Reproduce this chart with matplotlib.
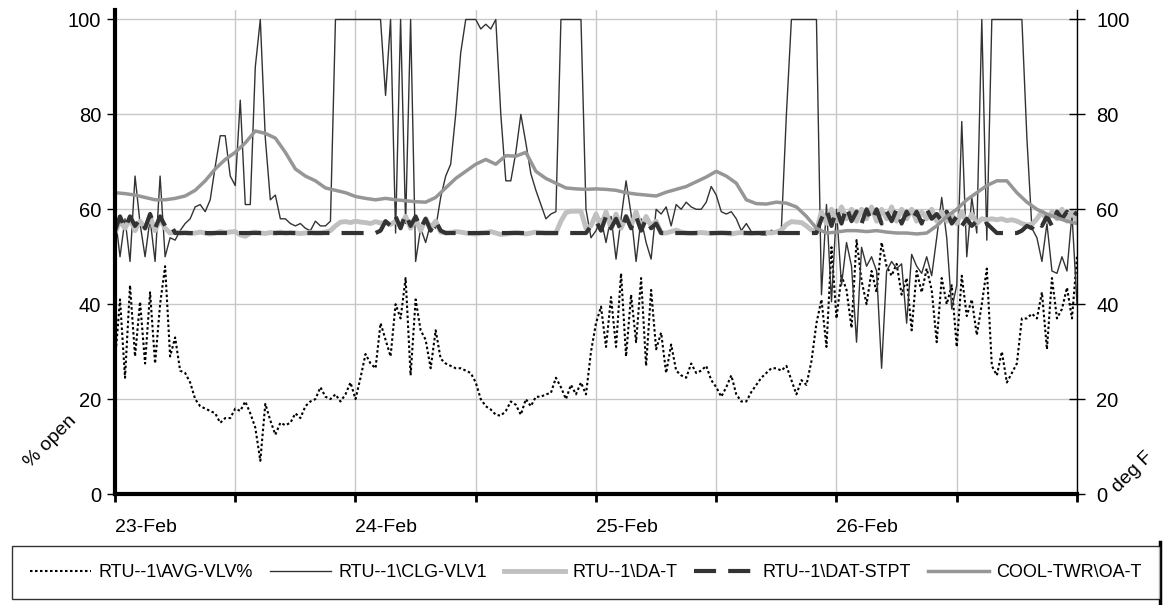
import matplotlib.pyplot as plt
import numpy as np
from matplotlib.lines import Line2D

plt.rcParams['font.family'] = ['Liberation Sans', 'DejaVu Sans']

# x axis: hours from 23-Feb 00:00, labels every 12 h
tick_labels = ['23-Feb', '', '24-Feb', '', '25-Feb', '', '26-Feb', '', '']
series_names = ['RTU--1\\AVG-VLV%', 'RTU--1\\CLG-VLV1', 'RTU--1\\DA-T',
                'RTU--1\\DAT-STPT', 'COOL-TWR\\OA-T']

# half-hourly samples (% open)
avg_vlv = [28, 41, 24.5, 44, 29, 40.5, 27.5, 42.5, 27.5, 40, 48, 29,
           33, 26, 25.5, 23.5, 20, 18.5, 18, 17.5, 17, 15, 16, 16,
           18, 17.5, 19.5, 17, 14, 7, 19, 15.5, 12.5, 15, 14.5, 15,
           17, 16, 18.5, 19.5, 20, 22.5, 20.5, 20, 21, 19.5, 21, 23.5,
           20, 24.5, 29.5, 27.5, 26.5, 36, 32.5, 29, 40, 37, 45.5, 25,
           41, 34.5, 32.5, 26.5, 34.5, 28.5, 27.5, 27, 26.5, 26.5, 26, 25.5,
           23.5, 20, 18.5, 17.8, 16.7, 16.5, 17.5, 19.5, 18.8, 16.7, 20, 18.5,
           20.5, 20.5, 21, 21.3, 24.5, 22.5, 20, 23, 21, 23.5, 21, 30,
           36, 39.5, 31, 41.5, 31, 46.5, 29, 42, 32, 45.5, 27, 43,
           30.5, 34, 25.5, 31.5, 26, 25, 24.5, 27.5, 25.5, 26, 27, 24,
           22.5, 20.5, 22.5, 25, 21, 19.5, 19.5, 21.5, 23, 24.5, 25.5, 26.5,
           26.5, 26, 27, 24, 21, 24, 23, 28, 36, 41, 31, 52,
           37, 46, 43, 35, 53.5, 45, 40, 47, 42.5, 53, 48, 46,
           48.5, 42, 45.5, 34.5, 47, 42.5, 47.5, 43, 32, 45.5, 40, 44,
           31, 46, 37.5, 41, 33.5, 40, 47.5, 27, 25, 30, 23.5, 25.5,
           27.5, 37, 37, 38, 37, 42.5, 30.5, 45.5, 37, 39, 43.5, 37,
           50]

clg_vlv1 = [59, 50, 58, 49, 67, 57, 50, 58, 49, 67, 50, 54,
            53.5, 55.5, 57, 58, 60.5, 61, 59.5, 62, 69, 75.5, 75.5, 67,
            65, 83, 61, 61, 90, 100, 75, 62, 63, 58, 58, 57,
            56.5, 57, 56, 55.5, 57.5, 56.5, 56.5, 57.5, 100, 100, 100, 100,
            100, 100, 100, 100, 100, 100, 84, 100, 55, 100, 57, 100,
            49, 56, 53, 57, 56, 62.5, 67, 69.5, 80, 93, 100, 100,
            100, 98, 99, 98, 100, 80, 66, 66, 72, 80, 74, 67.5,
            64, 61, 58, 59, 59.5, 100, 100, 100, 100, 100, 60, 54,
            55.5, 58, 53, 58.5, 49.5, 58, 66, 59, 49, 58, 53, 49.5,
            60, 59, 60.5, 56.5, 61, 60, 61.5, 60.5, 60, 60, 61.5, 64.8,
            63, 59.5, 59, 59.5, 58, 55.5, 57, 55.3, 55, 54.6, 54.6, 55.6,
            55, 56, 80, 100, 100, 100, 100, 100, 100, 42, 61, 40.5,
            60, 44, 53, 48, 32, 52, 48, 50, 47, 26.5, 47, 49,
            47.5, 48.5, 36, 50.5, 48, 46.5, 50, 46, 54, 62.5, 54, 39,
            44, 78.5, 50, 62.5, 55, 100, 53.5, 100, 100, 100, 100, 100,
            100, 100, 75, 56, 54, 49, 57, 47, 46.5, 50, 47, 59,
            40]

# half-hourly samples (deg F)
da_t = [55, 57.5, 56, 58, 55.5, 57.5, 56, 58.5, 55.5, 58, 56, 55,
        55.2, 55.0, 55.1, 54.9, 55.0, 55.2, 55.0, 54.8, 55.0, 55.3, 55.1, 55.2,
        55.3, 54.6, 54.3, 55.0, 55.2, 55.0, 54.9, 55.1, 55.0, 55.2, 55.0, 55.1,
        55.0, 54.9, 55.0, 55.1, 55.0, 55.0, 55.2, 55.5, 56.5, 57.3, 57.4, 57.2,
        57.5, 57.3, 57.2, 57.0, 57.4, 57.1, 57.2, 56.8, 57.5, 56.5, 58.5, 56,
        58, 55.5, 58, 56, 57.5, 55.2, 55.0, 55.1, 55.3, 55.2, 55.0, 54.9,
        54.8, 55.0, 55.1, 55.3, 55.0, 54.7, 54.8, 55.0, 55.1, 55.0, 54.8, 55.0,
        55.2, 55.1, 55.0, 55.0, 55.0, 57.5, 59.3, 59.6, 59.6, 59.6, 56, 56.5,
        59, 56.5, 59.5, 56, 59, 56, 58.5, 56.5, 59.5, 56, 58.5, 56.5,
        57.5, 55.0, 55.0, 55.3, 55.6, 55.2, 55.0, 54.9, 55.0, 55.1, 55.0, 54.9,
        55.0, 55.1, 55.0, 54.8, 55.0, 55.1, 55.0, 54.9, 55.0, 55.0, 55.1, 55.0,
        55.2, 55.6, 56.8, 57.4, 57.3, 57.2, 56.5, 55.6, 55.5, 59.5, 57, 60,
        57.5, 60.5, 58, 60, 57.5, 60, 58, 60.5, 57.5, 60, 58, 60.5,
        57.5, 60, 58, 60, 57.5, 59.5, 58, 60, 57.5, 59.5, 57.5, 59,
        57, 59.5, 57, 59, 57, 58, 57.8, 58, 57.8, 58, 57.6, 57.8,
        57.5, 57, 56.7, 56.8, 58, 59.5, 57.5, 59.5, 58, 60, 57.5, 59.5,
        57.5]

dat_stpt = [55.5, 58.5, 56, 58.5, 56.5, 58, 56, 59, 56, 58.5, 56.5, 57,
            55, 55, 55, 55, 55, 55, 55, 55, 55, 55, 55, 55,
            55, 55, 55, 55, 55, 55, 55, 55, 55, 55, 55, 55,
            55, 55, 55, 55, 55, 55, 55, 55, 55, 55, 55, 55,
            55, 55, 55, 55, 55, 55.5, 57.5, 56.5, 58.5, 56, 59, 56.5,
            58.5, 56, 58, 55.5, 57.5, 55.5, 55, 55, 55, 55, 55, 55,
            55, 55, 55, 55, 55, 55, 55, 55, 55, 55, 55, 55,
            55, 55, 55, 55, 55, 55, 55, 55, 55, 55, 55, 56.5,
            57.5, 55.5, 58.5, 56, 58, 55.5, 58.5, 56, 58.5, 55.5, 58, 56,
            57, 55, 55, 55, 55, 55, 55, 55, 55, 55, 55, 55,
            55, 55, 55, 55, 55, 55, 55, 55, 55, 55, 55, 55,
            55, 55, 55, 55, 55, 55, 55, 55, 55, 58, 60, 56.5,
            60, 57, 60.5, 57.5, 59.5, 57, 60, 57.5, 60, 57, 59.5, 57.5,
            60, 57, 59.5, 57.5, 59.5, 57, 60, 58, 59, 57.5, 59.5, 57,
            58.5, 56.5, 58, 56.5, 57.5, 56.5, 57, 56, 55, 55, 55, 55,
            55, 55.5, 56.5, 56, 57.5, 56.5, 58.5, 56.5, 59.5, 58, 59.5, 58,
            59.5]

# hourly samples (deg F)
oa_t = [63.5, 63.3, 63.0, 62.5, 62.0, 62.0, 62.3, 62.8, 64.0, 66.0, 68.5, 70.5,
        72.0, 74.0, 76.5, 76.0, 75.0, 72.0, 68.5, 67.0, 66.0, 64.5, 64.0, 63.5,
        62.7, 62.3, 62.0, 62.3, 62.0, 61.8, 61.6, 61.5, 62.5, 64.5, 66.5, 68.0,
        69.5, 70.5, 69.5, 71.3, 71.2, 72.0, 68.0, 66.5, 65.5, 64.5, 64.3, 64.2,
        64.3, 64.2, 64.0, 63.5, 63.2, 63.0, 62.8, 63.6, 64.2, 64.8, 65.8, 66.8,
        68.0, 67.0, 65.5, 62.0, 61.2, 61.1, 61.5, 61.3, 60.5, 58.5, 56.0, 55.0,
        55.2, 55.5, 55.5, 55.3, 55.5, 55.2, 55.0, 55.0, 54.8, 55.0, 56.5, 58.5,
        60.0, 62.0, 63.5, 65.0, 66.0, 66.0, 63.5, 61.5, 60.0, 59.0, 58.2, 57.5,
        57.0]

W, H = 1163, 605
fig = plt.figure(figsize=(W / 100, H / 100), dpi=100)
ax = fig.add_axes([115 / W, 1 - 494 / H, (1077 - 115) / W, (494 - 10) / H])

t_half = np.arange(len(clg_vlv1)) / 2
t_hour = np.arange(len(oa_t))

styles = [
    dict(color='black', lw=1.5, ls=(0, (1.2, 1.2))),
    dict(color='#333333', lw=1.0, ls='-'),
    dict(color='#c0c0c0', lw=3.5, ls='-'),
    dict(color='#333333', lw=3.0, ls=(0, (5.3, 2.9))),
    dict(color='#969696', lw=2.5, ls='-'),
]

ax.plot(t_half, avg_vlv, **styles[0])
ax.plot(t_half, clg_vlv1, **styles[1])
ax.plot(t_half, da_t, **styles[2])
ax.plot(t_half, dat_stpt, **styles[3])
ax.plot(t_hour, oa_t, **styles[4])

ax.set_xlim(0, 96)
ax.set_ylim(0, 102)
ax.set_xticks(np.arange(0, 97, 12))
ax.set_xticklabels(tick_labels, ha='left', fontsize=14)
ax.set_yticks(np.arange(0, 101, 20))
ax.tick_params(axis='y', labelsize=14.5, direction='out', length=6, width=1, pad=4)
ax.tick_params(axis='x', direction='out', length=6, width=2, pad=12)
ax.grid(True, color='#c8c8c8', lw=1)
ax.set_axisbelow(True)
for s in ['top', 'right']:
    ax.spines[s].set_visible(False)
ax.spines['left'].set_linewidth(3)
ax.spines['bottom'].set_linewidth(3)

ax2 = ax.twinx()
ax2.set_ylim(0, 102)
ax2.set_yticks(np.arange(0, 101, 20))
ax2.tick_params(axis='y', labelsize=14.5, direction='inout', length=12, width=1, pad=8)
for s in ['top', 'left', 'bottom']:
    ax2.spines[s].set_visible(False)
ax2.spines['right'].set_linewidth(1)

fig.text(50 / W, 1 - 442 / H, '% open', rotation=45, ha='center', va='center', fontsize=14)
fig.text(1133 / W, 1 - 472 / H, 'deg F', rotation=45, ha='center', va='center', fontsize=14)

handles = [Line2D([], [], **st) for st in styles]
leg = fig.legend(handles, series_names, loc='center', ncol=5,
                 bbox_to_anchor=(12 / W, 1 - 603 / H, 1148 / W, 61 / H),
                 mode='expand', fontsize=13, frameon=True, fancybox=False,
                 edgecolor='black', handlelength=3.4, handletextpad=0.4,
                 borderpad=1.0, borderaxespad=0)
leg.get_frame().set_linewidth(1)
fig.add_artist(Line2D([1160 / W, 1160 / W], [1 - 603 / H, 1 - 542 / H],
                      color='black', lw=2.5, transform=fig.transFigure))

fig.savefig('out.png', dpi=100)
